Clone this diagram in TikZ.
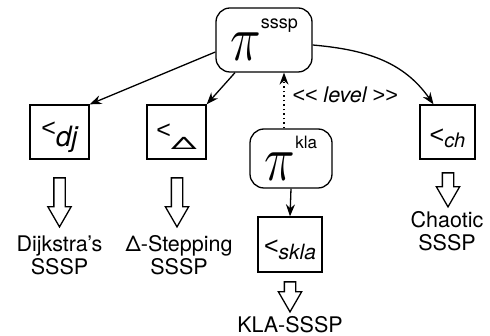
\documentclass[tikz,border=0pt]{standalone}
\usepackage{fontspec}
\usepackage{graphicx}
\setmainfont{TeX Gyre Heros}
\newfontfamily\relfont{Liberation Sans}
\usetikzlibrary{shapes,arrows.meta,positioning,calc}

% big pi with a raised tag, and an order symbol with a lowered tag
\newcommand{\bigpi}{\scalebox{2.5}[3.1]{$\pi$}}
\newcommand{\lsym}{{\relfont\symbol{"3C}}}
\newcommand{\gsym}{{\relfont\symbol{"3E}}}
% #1 tag, #2 tag size, #3 tag drop, #4 baseline below centre
\newcommand{\ordr}[4]{\raisebox{-#4}[0pt][0pt]{\fontsize{25}{25}\selectfont\lsym\raisebox{-#3}{\fontsize{#2}{#2}\selectfont\itshape #1}}}

\begin{document}
\begin{tikzpicture}[x=1pt, y=-1pt, line width=1.3pt,
    every node/.style={font=\fontsize{21.5}{23}\selectfont},
    rel/.style={rectangle, draw, minimum height=54pt, inner sep=2pt},
    plan/.style={rectangle, draw, rounded corners=14pt, inner sep=2pt},
    hollow/.style={single arrow, draw, rotate=-90, inner sep=5pt,
        single arrow head extend=6pt, single arrow tip angle=60, minimum width=22pt},
    >={Stealth[length=12pt, width=9pt]}]
    \useasboundingbox (0,0) rectangle (490,336);

    \node[plan, minimum width=96pt, minimum height=64pt] (sssp) at (264,40) {\bigpi\raisebox{32pt}{\fontsize{18}{18}\selectfont sssp}};
    \node[plan, minimum width=82pt, minimum height=59pt] (kla) at (291,158.5) {\bigpi\raisebox{32pt}{\fontsize{17}{17}\selectfont kla}};

    \node[rel, minimum width=59pt] (dj) at (59.5,132) {\ordr{dj}{28}{10pt}{4.5pt}};
    \node[rel, minimum width=59pt] (dlt) at (176.5,132) {\ordr{\upshape\scalebox{1.8}[0.85]{Δ}}{20}{11.5pt}{6.5pt}};
    \node[rel, minimum width=55pt] (ch) at (447.5,132) {\ordr{ch}{20}{4.5pt}{11.5pt}};
    \node[rel, minimum width=64pt, minimum height=55pt] (skla) at (290,244.5) {\ordr{skla}{21}{5.5pt}{10pt}};

    % outcomes
    \node[hollow, minimum height=49pt] (djout) at (59.5,197.5) {};
    \node[hollow, minimum height=49pt] (dltout) at (177,197.5) {};
    \node[hollow, minimum height=34pt] (chout) at (448,185) {};
    \node[hollow, minimum height=30pt] (sklaout) at (290,292) {};

    \node[align=center] (djtxt) at (59.5,255) {Dijkstra's\\SSSP};
    \node[align=center] (dlttxt) at (179,255) {Δ-Stepping\\SSSP};
    \node[align=center] (chtxt) at (447,231) {Chaotic\\SSSP};
    \node (klatxt) at (290,325) {KLA-SSSP};

    \draw[->] ([yshift=-12pt]sssp.west) -- (dj.north east);
    \draw[->] ([xshift=-29pt]sssp.south) -- (dlt.north east);
    \draw[->] ([yshift=-5pt]sssp.east) to[out=-5, in=125] ([xshift=-14pt]ch.north);

    \coordinate (lv) at ([xshift=-7pt]kla.north);
    \draw[->, dash pattern=on 1.5pt off 3pt] (lv) -- (lv |- sssp.south);
    \node[font=\fontsize{21.5}{23}\selectfont\itshape] (lvl) at (345,95) {\lsym\lsym\ level \gsym\gsym};
    \draw[->] (kla.south) -- (skla.north);
\end{tikzpicture}
\end{document}
